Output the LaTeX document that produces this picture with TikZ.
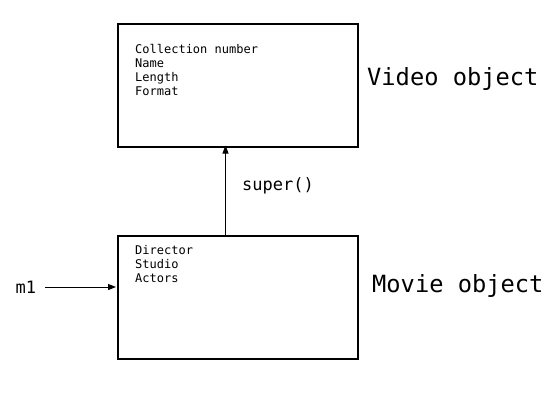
\documentclass[tikz,border=0pt]{standalone}
\usepackage{fontspec}
\setmonofont{DejaVu Sans Mono}
\usetikzlibrary{arrows.meta}
\begin{document}
\begin{tikzpicture}[x=1pt,y=-1pt,
  box/.style={draw,line width=2pt,minimum width=240pt,minimum height=123pt,inner sep=0pt,anchor=north west},
  field/.style={anchor=base west,inner sep=0pt,font=\ttfamily\fontsize{12}{14}\selectfont},
  big/.style={anchor=base west,inner sep=0pt,font=\ttfamily\fontsize{23.7}{26}\selectfont},
  mid/.style={anchor=base west,inner sep=0pt,font=\ttfamily\fontsize{17}{19}\selectfont},
  arr/.style={-{Triangle[length=8pt,width=6pt]},line width=1pt}]
\useasboundingbox (0,0) rectangle (550,400);
\node[box] (video) at (116.5,22.5) {};
\node[box] (movie) at (116.5,235) {};
\node[field] (f1) at (135,53.3) {Collection number};
\node[field] (f2) at (135,67.3) {Name};
\node[field] (f3) at (135,81.3) {Length};
\node[field] (f4) at (135,95.3) {Format};
\node[field] (g1) at (135,254) {Director};
\node[field] (g2) at (135,268) {Studio};
\node[field] (g3) at (135,282) {Actors};
\node[big] (vlabel) at (367,85) {Video object};
\node[big] (mlabel) at (372,292) {Movie object};
\node[mid] (super) at (242,190) {super()};
\node[mid] (m1) at (15.5,293) {m1};
\coordinate (mtop) at (225.5,235);
\coordinate (vbot) at (225.5,145.5);
\draw[arr] (mtop) -- (vbot);
\coordinate (m1end) at (45,287);
\draw[arr] (m1end) -- (116,287);
\end{tikzpicture}
\end{document}
